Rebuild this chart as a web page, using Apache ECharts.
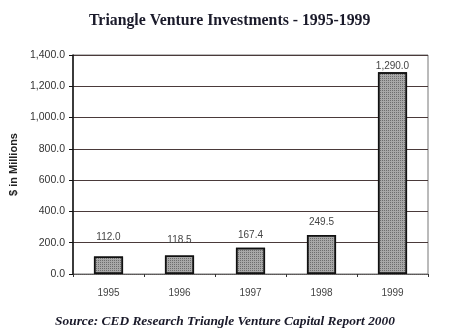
<!DOCTYPE html>
<html><head><meta charset="utf-8">
<script src="https://cdn.jsdelivr.net/npm/echarts@6/dist/echarts.min.js"></script>
<style>html,body{margin:0;padding:0;background:#fff}#c{width:450px;height:332px}</style>
</head><body><div id="c"></div>
<script>
const years = ['1995','1996','1997','1998','1999'];
const investments = [112.0, 118.5, 167.4, 249.5, 1290.0];
const yTicks = [0, 200, 400, 600, 800, 1000, 1200, 1400];
const labelGaps = [14, 10, 8, 8, 1];

const fmt = v => v.toLocaleString('en-US', {minimumFractionDigits:1, maximumFractionDigits:1});
const chart = echarts.init(document.getElementById('c'), null, {renderer:'canvas'});
chart.setOption({
  animation: false,
  backgroundColor: '#fff',
  title: [{
    text: 'Triangle Venture Investments - 1995-1999',
    left: 84, top: 8,
    textStyle: {fontFamily: 'Liberation Serif', fontWeight: 'bold', fontSize: 15.8, color: '#1a1a2a'}
  },{
    text: 'Source: CED Research Triangle Venture Capital Report 2000',
    left: 'center', top: 310,
    textStyle: {fontFamily: 'Liberation Serif', fontWeight: 'bold', fontStyle: 'italic', fontSize: 13.4, color: '#1a1a2a'}
  }],
  grid: {left: 73, right: 22, top: 55, bottom: 58, show: true, borderColor: '#777', borderWidth: 1, backgroundColor: 'transparent'},
  xAxis: {
    type: 'category', data: years,
    axisLine: {lineStyle: {color: '#666', type: 'dotted'}},
    axisTick: {show: true, alignWithLabel: false, length: 3, lineStyle: {color: '#333'}},
    axisLabel: {fontFamily: 'Liberation Sans', fontSize: 10, color: '#444', margin: 14}
  },
  yAxis: {
    type: 'value', min: yTicks[0], max: yTicks[yTicks.length-1], interval: 200,
    name: '$ in Millions', nameLocation: 'middle', nameGap: 51, nameRotate: 90,
    nameTextStyle: {fontFamily: 'Liberation Sans', fontWeight: 'bold', fontSize: 11, color: '#222'},
    axisLine: {show: true, lineStyle: {color: '#111', width: 1.5}},
    axisTick: {show: true, length: 4, lineStyle: {color: '#111'}},
    axisLabel: {fontFamily: 'Liberation Sans', fontSize: 10.5, color: '#333', formatter: v => fmt(v)},
    splitLine: {lineStyle: {color: '#4a3a3a', width: 1.2}}
  },
  series: [{
    type: 'bar',
    data: investments.map((v, i) => ({value: v, label: {distance: labelGaps[i]}})),
    barWidth: '41%',
    itemStyle: {
      color: '#a8a8a8', borderColor: '#111', borderWidth: 1.5,
      decal: {symbol: 'rect', symbolSize: 1, color: 'rgba(60,60,60,0.55)', dashArrayX: [1, 1], dashArrayY: [1, 1], rotation: 0}
    },
    label: {show: true, position: 'top', fontFamily: 'Liberation Sans', fontSize: 10, color: '#444', formatter: p => fmt(p.value)}
  }]
});
</script></body></html>
